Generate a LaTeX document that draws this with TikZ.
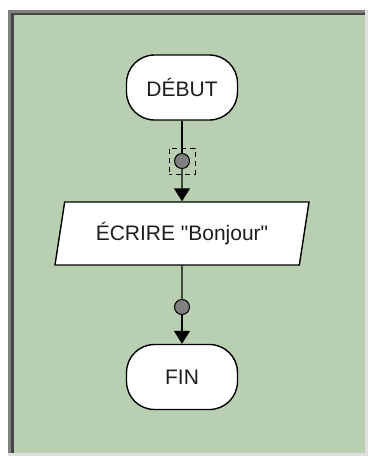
\documentclass[tikz,border=0pt]{standalone}
\usepackage{fontspec}
\setmainfont{Liberation Sans}
\usepackage{tikz}
\usetikzlibrary{arrows.meta, shapes.geometric}

\definecolor{fondo}{RGB}{185,207,177}
\definecolor{texto}{RGB}{30,30,30}

\begin{document}
\begin{tikzpicture}[x=1pt, y=1pt,
        terminal/.style={draw, fill=white, line width=1.4pt, rounded corners=28pt,
            minimum width=111pt, minimum height=65pt, inner sep=0pt,
            text=texto, font=\fontsize{21}{25}\selectfont},
        salida/.style={draw, fill=white, line width=1.4pt, trapezium,
            trapezium left angle=70, trapezium right angle=110,
            trapezium stretches body=true,
            minimum width=254pt, minimum height=63pt, inner sep=2pt,
            text=texto, font=\fontsize{21}{25}\selectfont},
        punto/.style={circle, draw, fill=gray, line width=1pt,
            minimum size=15pt, inner sep=0pt},
        seleccion/.style={draw, dash pattern=on 5pt off 4pt, dash phase=2pt,
            line width=1pt, minimum size=26pt, inner sep=0pt},
        conector/.style={line width=1.4pt},
        flecha/.style={line width=1.4pt, -{Triangle[width=16pt, length=13pt]}}]
    \useasboundingbox (0,0) rectangle (368,-456);
    % marco
    \fill[white] (0,0) rectangle (368,-456);
    \fill[black!12] (8,-10) rectangle (368,-456);
    \fill[black!50] (8,-10) rectangle (365,-453);
    \fill[black!72] (11,-13) rectangle (365,-453);
    \fill[fondo] (14,-15) rectangle (365,-453);
    % bloques
    \node[terminal] (debut) at (182,-87.5) {DÉBUT};
    \node[punto] (punto1) at (182,-161) {};
    \node[seleccion] (sel1) at (punto1) {};
    \node[salida] (ecrire) at (182,-233.5) {ÉCRIRE \textquotedbl Bonjour\textquotedbl};
    \node[punto] (punto2) at (182,-307) {};
    \node[terminal] (fin) at (182,-377) {FIN};
    % liens
    \draw[conector] (debut) -- (punto1);
    \draw[flecha] (punto1) -- (ecrire);
    \draw[conector] (ecrire) -- (punto2);
    \draw[flecha] (punto2) -- (fin);
\end{tikzpicture}
\end{document}
